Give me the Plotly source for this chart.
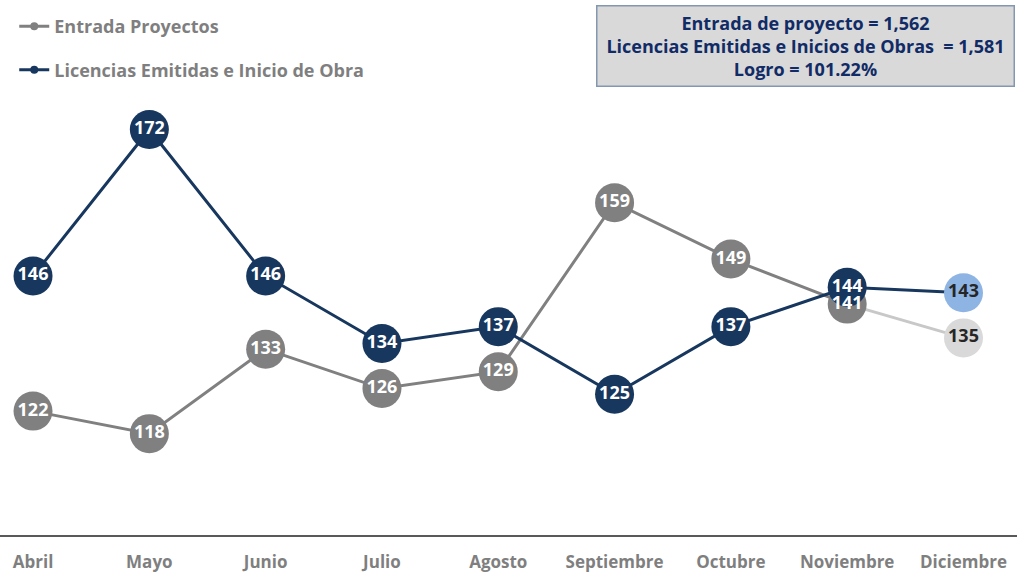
import plotly.graph_objects as go

months = ["Abril", "Mayo", "Junio", "Julio", "Agosto", "Septiembre", "Octubre", "Noviembre", "Diciembre"]
entrada = [122, 118, 133, 126, 129, 159, 149, 141, 135]
licencias = [146, 172, 146, 134, 137, 125, 137, 144, 143]

summary_lines = [
    "Entrada de proyecto = 1,562",
    "Licencias Emitidas e Inicios de Obras  = 1,581",
    "Logro = 101.22%",
]

NAVY = "#17375E"
GRAY = "#808080"
LIGHT_GRAY_LINE = "#C8C8C8"
LAST_GRAY = "#D9D9D9"
LAST_BLUE = "#8DB4E2"
DARK_TEXT = "#262626"
FONT = "Open Sans"

n = len(months)
gray_marker_colors = [GRAY] * (n - 1) + [LAST_GRAY]
navy_marker_colors = [NAVY] * (n - 1) + [LAST_BLUE]
text_colors = ["white"] * (n - 1) + [DARK_TEXT]

fig = go.Figure()

# Entrada Proyectos: lines and markers
fig.add_trace(go.Scatter(x=months[:n - 1], y=entrada[:n - 1], mode="lines",
                         line=dict(color=GRAY, width=3), showlegend=False, hoverinfo="skip"))
fig.add_trace(go.Scatter(x=months[n - 2:], y=entrada[n - 2:], mode="lines",
                         line=dict(color=LIGHT_GRAY_LINE, width=3), showlegend=False, hoverinfo="skip"))
fig.add_trace(go.Scatter(x=months, y=entrada, mode="markers",
                         marker=dict(size=39, color=gray_marker_colors), showlegend=False))

# Licencias Emitidas e Inicio de Obra: line and markers
fig.add_trace(go.Scatter(x=months, y=licencias, mode="lines",
                         line=dict(color=NAVY, width=3), showlegend=False, hoverinfo="skip"))
fig.add_trace(go.Scatter(x=months, y=licencias, mode="markers",
                         marker=dict(size=39, color=navy_marker_colors), showlegend=False))

# Data labels drawn above all markers
fig.add_trace(go.Scatter(x=months, y=entrada, mode="text",
                         text=[str(v) for v in entrada], textposition="middle center",
                         textfont=dict(family=FONT, size=18, color=text_colors, weight="bold"),
                         showlegend=False, hoverinfo="skip"))
fig.add_trace(go.Scatter(x=months, y=licencias, mode="text",
                         text=[str(v) for v in licencias], textposition="middle center",
                         textfont=dict(family=FONT, size=18, color=text_colors, weight="bold"),
                         showlegend=False, hoverinfo="skip"))

# Legend entries
fig.add_trace(go.Scatter(x=[None], y=[None], mode="lines+markers", name="Entrada Proyectos",
                         line=dict(color=GRAY, width=3), marker=dict(size=8, color=GRAY),
                         legendgroup="a"))
fig.add_trace(go.Scatter(x=[None], y=[None], mode="lines+markers", name="Licencias Emitidas e Inicio de Obra",
                         line=dict(color=NAVY, width=3), marker=dict(size=8, color=NAVY),
                         legendgroup="b"))

fig.add_annotation(
    xref="paper", yref="paper", x=805.5 / 1017, y=(535 - 5) / 535,
    xanchor="center", yanchor="top",
    text="<br>".join(summary_lines), showarrow=False, align="center",
    font=dict(family=FONT, size=18, color="#112B66", weight="bold"),
    bgcolor="#D9D9D9", bordercolor="#8497B0", borderwidth=1.5, borderpad=1,
    width=414, height=77,
)

fig.update_layout(
    width=1017, height=576,
    margin=dict(l=0, r=0, t=0, b=41),
    plot_bgcolor="white", paper_bgcolor="white",
    font=dict(family=FONT),
    legend=dict(x=0.014, y=0.985, xanchor="left", yanchor="top",
                font=dict(family=FONT, size=18, color="#7F7F7F", weight="bold"),
                itemwidth=30, tracegroupgap=17, bgcolor="rgba(0,0,0,0)"),
    xaxis=dict(range=[-0.284, 8.46], showgrid=False, zeroline=False,
               showline=True, linecolor="#595959", linewidth=2,
               ticks="", ticklabelstandoff=11,
               tickfont=dict(family=FONT, size=17, color="#7F7F7F", weight="bold")),
    yaxis=dict(range=[100, 195], visible=False, showgrid=False, zeroline=False),
    showlegend=True,
)

fig.write_html("out.html", config={"displayModeBar": False},
               post_script="document.body.style.margin='0';")
